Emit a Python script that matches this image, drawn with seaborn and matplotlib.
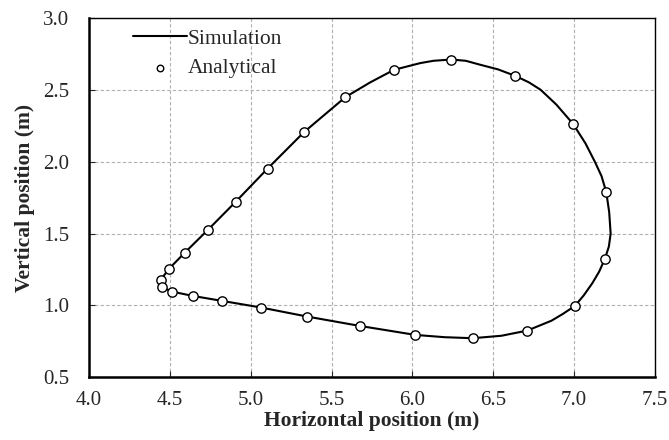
import matplotlib
matplotlib.use("Agg")
import matplotlib.pyplot as plt
import seaborn as sns
import pandas as pd

# Simulation trajectory (closed loop)
sim_x = [4.438, 4.444, 4.494, 4.593, 4.737, 4.907, 5.105, 5.330, 5.586, 5.74, 5.886,
         6.049, 6.13, 6.241, 6.33, 6.421, 6.53, 6.636, 6.72, 6.793, 6.89, 6.993,
         7.07, 7.129, 7.17, 7.199, 7.217, 7.226, 7.215, 7.191, 7.155, 7.113, 7.06,
         7.005, 6.93, 6.86, 6.710, 6.55, 6.373, 6.2, 6.018, 5.673, 5.349, 5.064,
         4.824, 4.641, 4.514, 4.450, 4.438]
sim_y = [1.152, 1.178, 1.254, 1.368, 1.528, 1.722, 1.954, 2.208, 2.452, 2.555, 2.642,
         2.689, 2.705, 2.714, 2.705, 2.677, 2.645, 2.600, 2.555, 2.503, 2.40, 2.266,
         2.13, 2.0, 1.9, 1.789, 1.65, 1.50, 1.41, 1.326, 1.235, 1.155, 1.07,
         0.996, 0.94, 0.893, 0.824, 0.788, 0.771, 0.778, 0.794, 0.857, 0.922, 0.985,
         1.031, 1.066, 1.096, 1.127, 1.152]

# Analytical points
ana_x = [4.444, 4.494, 4.593, 4.737, 4.907, 5.105, 5.330, 5.586, 5.886, 6.241,
         6.636, 6.993, 7.199, 7.191, 7.005, 6.710, 6.373, 6.018, 5.673, 5.349,
         5.064, 4.824, 4.641, 4.514, 4.450]
ana_y = [1.178, 1.254, 1.368, 1.528, 1.722, 1.954, 2.208, 2.452, 2.642, 2.714,
         2.600, 2.266, 1.789, 1.326, 0.996, 0.824, 0.771, 0.794, 0.857, 0.922,
         0.985, 1.031, 1.066, 1.096, 1.127]

x_ticks = [4.0, 4.5, 5.0, 5.5, 6.0, 6.5, 7.0, 7.5]
y_ticks = [0.5, 1.0, 1.5, 2.0, 2.5, 3.0]

sns.set_style("ticks")
plt.rcParams["font.family"] = ["Liberation Serif", "DejaVu Serif"]

fig = plt.figure(figsize=(6.69, 4.40), dpi=100)
ax = fig.add_axes([0.133, 0.143, 0.846, 0.815])

sim = pd.DataFrame({"x": sim_x, "y": sim_y})
ana = pd.DataFrame({"x": ana_x, "y": ana_y})

sns.lineplot(data=sim, x="x", y="y", sort=False, estimator=None, color="black",
             linewidth=1.5, ax=ax, label="Simulation")
sns.scatterplot(data=ana, x="x", y="y", marker="o", s=45, facecolor="white",
                edgecolor="black", linewidth=1.0, ax=ax, label="Analytical", zorder=3)

ax.set_xlim(4.0, 7.5)
ax.set_ylim(0.5, 3.0)
ax.set_xticks(x_ticks)
ax.set_yticks(y_ticks)
ax.set_xticklabels([f"{v:.1f}" for v in x_ticks])
ax.set_yticklabels([f"{v:.1f}" for v in y_ticks])
ax.tick_params(labelsize=15, direction="in", length=4, width=0.8)
ax.tick_params(axis="x", pad=10)
ax.tick_params(axis="y", pad=14)
ax.grid(True, color="#b0b0b0", linestyle=(0, (3, 2)), linewidth=0.8)

ax.set_xlabel("Horizontal position (m)", fontsize=15.5, fontweight="bold", labelpad=1)
ax.set_ylabel("Vertical position (m)", fontsize=15.5, fontweight="bold", labelpad=6)

for side in ["left", "bottom"]:
    ax.spines[side].set_linewidth(1.8)
for side in ["top", "right"]:
    ax.spines[side].set_linewidth(1.0)
for s in ax.spines.values():
    s.set_color("black")

ax.legend(loc="upper left", bbox_to_anchor=(0.078, 0.972), frameon=False,
          fontsize=15.5, handlelength=2.5, handletextpad=0.05, borderpad=0,
          borderaxespad=0, labelspacing=0.45, markerscale=0.7)

fig.savefig("out.png", dpi=100)
